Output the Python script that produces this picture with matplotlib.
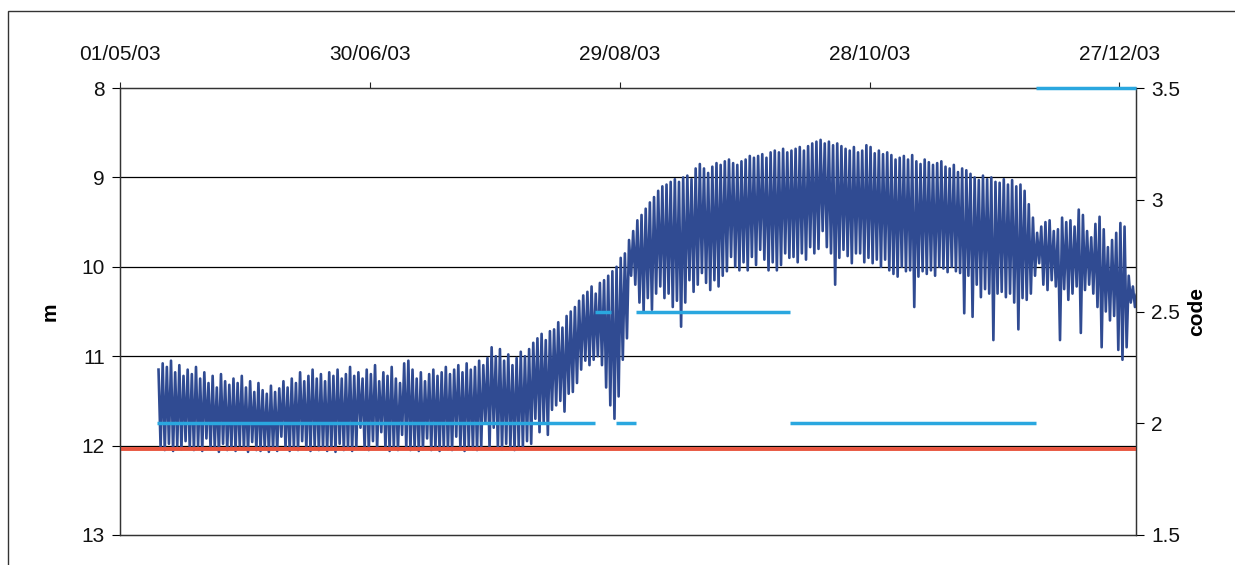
import numpy as np
import pandas as pd
import matplotlib
matplotlib.use("Agg")
import matplotlib.pyplot as plt
import matplotlib.dates as mdates
from matplotlib.patches import Rectangle
from matplotlib.ticker import FixedLocator

plt.rcParams['font.family'] = ['Liberation Sans', 'DejaVu Sans']

# ---------------- data ----------------
series_start = '2003-05-10'   # first day of the water-level record
# daily shallowest level (m below reference)
level_high = [
    11.15, 11.08, 11.12, 11.05, 11.18, 11.10, 11.22, 11.15, 11.20, 11.12,
    11.25, 11.18, 11.30, 11.22, 11.35, 11.20, 11.28, 11.32, 11.25, 11.30,
    11.22, 11.35, 11.28, 11.40, 11.30, 11.38, 11.42, 11.33, 11.40, 11.36,
    11.28, 11.35, 11.25, 11.30, 11.18, 11.28, 11.22, 11.15, 11.25, 11.20,
    11.28, 11.18, 11.22, 11.15, 11.25, 11.20, 11.12, 11.22, 11.18, 11.25,
    11.15, 11.20, 11.10, 11.28, 11.18, 11.22, 11.12, 11.25, 11.30, 11.08,
    11.05, 11.15, 11.25, 11.18, 11.28, 11.20, 11.15, 11.22, 11.18, 11.12,
    11.20, 11.15, 11.10, 11.18, 11.08, 11.15, 11.12, 11.05, 11.10, 11.02,
    10.90, 11.00, 10.92, 11.05, 10.98, 11.10, 11.02, 10.95, 11.00, 10.92,
    10.85, 10.80, 10.75, 10.82, 10.72, 10.70, 10.62, 10.68, 10.55, 10.50,
    10.45, 10.38, 10.32, 10.28, 10.22, 10.30, 10.18, 10.15, 10.10, 10.05,
    10.00, 9.90, 9.85, 9.70, 9.60, 9.48, 9.42, 9.35, 9.28, 9.22,
    9.15, 9.10, 9.08, 9.05, 9.02, 9.05, 9.00, 8.98, 9.02, 8.90,
    8.85, 8.90, 8.95, 8.88, 8.84, 8.86, 8.82, 8.80, 8.84, 8.86,
    8.82, 8.80, 8.76, 8.78, 8.76, 8.74, 8.78, 8.72, 8.70, 8.72,
    8.68, 8.72, 8.70, 8.68, 8.66, 8.70, 8.65, 8.62, 8.60, 8.58,
    8.62, 8.60, 8.64, 8.62, 8.65, 8.68, 8.70, 8.66, 8.72, 8.70,
    8.64, 8.66, 8.73, 8.70, 8.74, 8.72, 8.75, 8.80, 8.78, 8.76,
    8.80, 8.75, 8.82, 8.85, 8.80, 8.83, 8.86, 8.84, 8.82, 8.88,
    8.90, 8.86, 8.94, 8.90, 8.92, 8.96, 9.00, 9.03, 8.98, 9.02,
    9.00, 9.05, 9.06, 9.02, 9.08, 9.03, 9.10, 9.08, 9.15, 9.30,
    9.45, 9.62, 9.55, 9.50, 9.48, 9.60, 9.58, 9.45, 9.50, 9.48,
    9.55, 9.36, 9.42, 9.60, 9.67, 9.52, 9.44, 9.58, 9.78, 9.70,
    9.62, 9.51, 9.55, 10.10, 10.22, 10.30,
]
# daily deepest level (m below reference)
level_low = [
    12.02, 12.05, 11.98, 12.06, 12.00, 12.04, 11.95, 12.03, 12.05, 12.00,
    12.06, 11.92, 12.04, 12.02, 12.07, 11.98, 12.05, 12.03, 12.06, 12.00,
    12.04, 12.07, 11.96, 12.05, 12.06, 12.02, 12.07, 12.04, 12.06, 11.90,
    12.03, 12.06, 12.02, 12.05, 11.95, 12.04, 12.06, 12.00, 12.05, 12.02,
    12.06, 12.04, 12.07, 11.98, 12.05, 12.03, 12.06, 12.02, 11.80, 12.04,
    12.05, 11.95, 12.03, 11.85, 12.04, 12.06, 12.02, 12.05, 11.88, 12.03,
    12.05, 12.02, 12.06, 12.04, 11.92, 12.05, 12.03, 12.06, 12.02, 12.04,
    12.05, 11.90, 12.03, 12.06, 12.00, 12.04, 12.05, 12.02, 11.75, 12.03,
    11.80, 12.02, 12.04, 11.98, 12.03, 12.05, 12.00, 12.02, 11.95, 11.98,
    11.70, 11.85, 11.75, 11.88, 11.60, 11.55, 11.50, 11.62, 11.42, 11.40,
    11.30, 11.15, 11.05, 11.10, 11.04, 11.00, 11.10, 11.35, 11.55, 11.70,
    11.45, 11.04, 10.80, 10.10, 10.20, 10.40, 10.50, 10.35, 10.48, 10.30,
    10.22, 10.35, 10.30, 10.45, 10.38, 10.67, 10.40, 10.15, 10.28, 10.20,
    10.07, 10.18, 10.26, 10.15, 10.22, 10.10, 10.05, 9.89, 10.00, 10.04,
    9.95, 10.04, 9.89, 9.98, 9.81, 9.92, 10.04, 9.95, 10.04, 9.98,
    9.85, 9.90, 9.89, 9.95, 9.85, 9.92, 9.78, 9.85, 9.80, 9.60,
    9.78, 9.85, 10.20, 9.90, 9.81, 9.88, 9.96, 9.85, 9.85, 9.95,
    9.90, 9.96, 9.92, 10.00, 9.92, 10.04, 10.08, 10.11, 10.00, 10.05,
    10.04, 10.45, 10.11, 10.05, 10.08, 10.04, 10.10, 10.00, 10.02, 10.06,
    10.00, 10.05, 10.07, 10.52, 10.10, 10.56, 10.20, 10.34, 10.25, 10.30,
    10.82, 10.30, 10.28, 10.34, 10.30, 10.40, 10.70, 10.35, 10.37, 10.30,
    10.10, 9.96, 10.20, 10.26, 10.15, 10.22, 10.82, 10.25, 10.37, 10.30,
    10.22, 10.74, 10.26, 10.20, 10.30, 10.45, 10.90, 10.50, 10.60, 10.55,
    10.93, 11.04, 10.90, 10.40, 10.45, 11.27,
]

# reference level (red line), m
ref_level = 12.04
ref_start, ref_end = '2003-05-01', '2003-12-31'

# code segments (right axis)
code_starts = ['2003-05-10', '2003-08-23', '2003-08-28', '2003-09-02', '2003-10-09', '2003-12-07']
code_ends   = ['2003-08-23', '2003-08-27', '2003-09-02', '2003-10-09', '2003-12-07', '2003-12-31']
code_values = [2.0, 2.5, 2.0, 2.5, 2.0, 3.5]

x_tick_labels = ['01/05/03', '30/06/03', '29/08/03', '28/10/03', '27/12/03']
left_ticks = [8, 9, 10, 11, 12, 13]
right_ticks = [1.5, 2, 2.5, 3, 3.5]

# ---------------- build line ----------------
n = min(len(level_high), len(level_low))
day0 = pd.Timestamp(series_start)
t_list, v_list = [], []
for i in range(n):
    t_list.append(day0 + pd.Timedelta(hours=24 * i + 6))
    v_list.append(level_high[i])
    t_list.append(day0 + pd.Timedelta(hours=24 * i + 18))
    v_list.append(level_low[i])

W, H = 1235, 565
FS = 15
fig = plt.figure(figsize=(W / 100, H / 100), dpi=100)
fig.patch.set_facecolor('white')

# outer chart frame
fig.add_artist(Rectangle((8 / W, -0.02), 1.05, (H - 11) / H + 0.02,
                         transform=fig.transFigure, fill=False,
                         edgecolor='#333333', lw=1.0))

ax = fig.add_axes([120 / W, 1 - 535 / H, (1136 - 120) / W, (535 - 88) / H])
ax.set_facecolor('white')

ax.plot(t_list, v_list, color='#304b92', lw=1.9, zorder=2)
ax.plot([pd.Timestamp(ref_start), pd.Timestamp(ref_end)], [ref_level, ref_level],
        color='#e8553f', lw=2.8, zorder=3, solid_capstyle='butt')

ax.set_ylim(13, 8)
ax.set_xlim(pd.Timestamp('2003-05-01'), pd.Timestamp('2003-12-31'))
ax.yaxis.set_major_locator(FixedLocator(left_ticks))
ax.set_yticklabels([str(v) for v in left_ticks])
for v in left_ticks[1:-1]:
    ax.axhline(v, color='black', lw=0.9, zorder=1)

xt = [mdates.date2num(pd.to_datetime(s, format='%d/%m/%y')) for s in x_tick_labels]
ax.xaxis.set_major_locator(FixedLocator(xt))
ax.set_xticklabels(x_tick_labels)
ax.xaxis.tick_top()
ax.tick_params(axis='x', which='major', direction='out', length=4, width=0.8,
               labelsize=FS, pad=13, colors='#222222', labelcolor='#111111')
ax.tick_params(axis='y', direction='out', length=6, width=0.8, labelsize=FS,
               pad=5, labelcolor='#111111')
ax.set_ylabel('m', fontsize=FS, fontweight='bold', labelpad=16)
for s in ax.spines.values():
    s.set_color('#333333')
    s.set_linewidth(0.9)

ax2 = ax.twinx()
ax2.set_ylim(1.5, 3.5)
for s0, s1, v in zip(code_starts, code_ends, code_values):
    ax2.plot([pd.Timestamp(s0), pd.Timestamp(s1)], [v, v], color='#2aa7df',
             lw=2.5, solid_capstyle='butt', clip_on=False, zorder=4)
ax2.yaxis.set_major_locator(FixedLocator(right_ticks))
ax2.set_yticklabels([('%g' % v) for v in right_ticks])
ax2.tick_params(axis='y', direction='out', length=6, width=0.8, labelsize=FS,
                pad=5, labelcolor='#111111')
ax2.set_ylabel('code', fontsize=FS, fontweight='bold', labelpad=5)
for s in ax2.spines.values():
    s.set_color('#333333')
    s.set_linewidth(0.9)
ax2.set_xlim(pd.Timestamp('2003-05-01'), pd.Timestamp('2003-12-31'))

fig.savefig('out.png', dpi=100, facecolor='white')
